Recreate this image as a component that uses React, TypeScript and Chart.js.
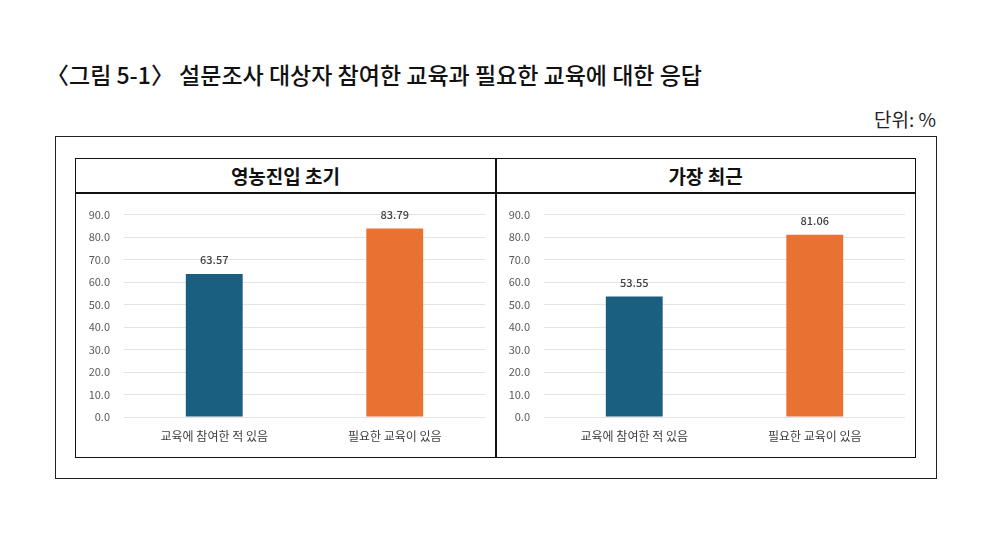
import React, { useEffect, useRef } from "react";
import { Chart, registerables } from "chart.js";

Chart.register(...registerables);

const categories = ["교육에 참여한 적 있음", "필요한 교육이 있음"];
const earlyValues = [63.57, 83.79];
const recentValues = [53.55, 81.06];
const panelTitles = ["영농진입 초기", "가장 최근"];
const barColors = ["#1a5f80", "#e97232"];
const yMax = 90;
const yStep = 10;

const FONT = "'Noto Sans CJK KR', 'Noto Sans', sans-serif";

const valueLabelPlugin = {
  id: "valueLabels",
  afterDatasetsDraw(chart: any) {
    const ctx = chart.ctx;
    const meta = chart.getDatasetMeta(0);
    const data = chart.data.datasets[0].data as number[];
    ctx.save();
    ctx.font = `500 11px ${FONT}`;
    ctx.fillStyle = "#404040";
    ctx.textAlign = "center";
    ctx.textBaseline = "middle";
    meta.data.forEach((bar: any, i: number) => {
      ctx.fillText(data[i].toFixed(2), bar.x, bar.y - 14);
    });
    ctx.restore();
  },
};

function BarPanel({ values }: { values: number[] }) {
  const ref = useRef<HTMLCanvasElement>(null);
  useEffect(() => {
    if (!ref.current) return;
    const chart = new Chart(ref.current, {
      type: "bar",
      data: {
        labels: categories,
        datasets: [
          {
            data: values,
            backgroundColor: barColors,
            categoryPercentage: 1,
            barPercentage: 0.315,
          },
        ],
      },
      options: {
        animation: false,
        responsive: false,
        maintainAspectRatio: false,
        layout: { padding: { top: 20, right: 10, left: 0, bottom: 0 } },
        plugins: { legend: { display: false }, tooltip: { enabled: false } },
        scales: {
          x: {
            grid: { display: false, drawTicks: false },
            border: { display: false },
            ticks: {
              color: "#404040",
              font: { family: FONT, size: 12 },
              padding: 12,
              maxRotation: 0,
            },
            afterFit(scale: any) {
              scale.height = 39;
            },
          },
          y: {
            min: 0,
            max: yMax,
            grid: { color: "#e3e3e3", drawTicks: false },
            border: { display: false },
            ticks: {
              stepSize: yStep,
              color: "#595959",
              font: { family: FONT, size: 11 },
              padding: 14,
              callback: (v: any) => Number(v).toFixed(1),
            },
            afterFit(scale: any) {
              scale.width = 48;
            },
          },
        },
      },
      plugins: [valueLabelPlugin],
    });
    return () => chart.destroy();
  }, [values]);
  return <canvas ref={ref} width={419} height={262} style={{ display: "block", width: 419, height: 262 }} />;
}

export default function App() {
  const abs = (l: number, t: number, w: number, h: number, extra: any = {}) => ({
    position: "absolute" as const,
    left: l,
    top: t,
    width: w,
    height: h,
    boxSizing: "border-box" as const,
    ...extra,
  });
  return (
    <div style={{ position: "absolute", left: 0, top: 0, width: 1002, height: 552, background: "#fff", fontFamily: FONT }}>
      <div
        style={{
          position: "absolute",
          left: 46,
          top: 58,
          fontSize: 23,
          fontWeight: 500,
          color: "#111",
          whiteSpace: "nowrap",
          lineHeight: "32px",
        }}
      >
        〈그림 5-1〉 설문조사 대상자 참여한 교육과 필요한 교육에 대한 응답
      </div>
      <div
        style={{
          position: "absolute",
          right: 1002 - 936,
          top: 105,
          fontSize: 19,
          color: "#222",
          whiteSpace: "nowrap",
          lineHeight: "28px",
        }}
      >
        단위: %
      </div>
      <div style={abs(55, 136, 882, 343, { border: "1px solid #222" })} />
      <div style={abs(75, 158, 841, 300, { border: "1.5px solid #111" })} />
      <div style={abs(75, 192, 841, 1.5, { background: "#111" })} />
      <div style={abs(495, 158, 1.5, 300, { background: "#111" })} />
      {panelTitles.map((t, i) => (
        <div
          key={t}
          style={abs(i === 0 ? 76 : 496, 159, 419, 33, {
            display: "flex",
            alignItems: "center",
            justifyContent: "center",
            fontSize: 19,
            fontWeight: 700,
            color: "#111",
          })}
        >
          {t}
        </div>
      ))}
      <div style={abs(76, 194, 419, 262)}>
        <BarPanel values={earlyValues} />
      </div>
      <div style={abs(496, 194, 419, 262)}>
        <BarPanel values={recentValues} />
      </div>
    </div>
  );
}
